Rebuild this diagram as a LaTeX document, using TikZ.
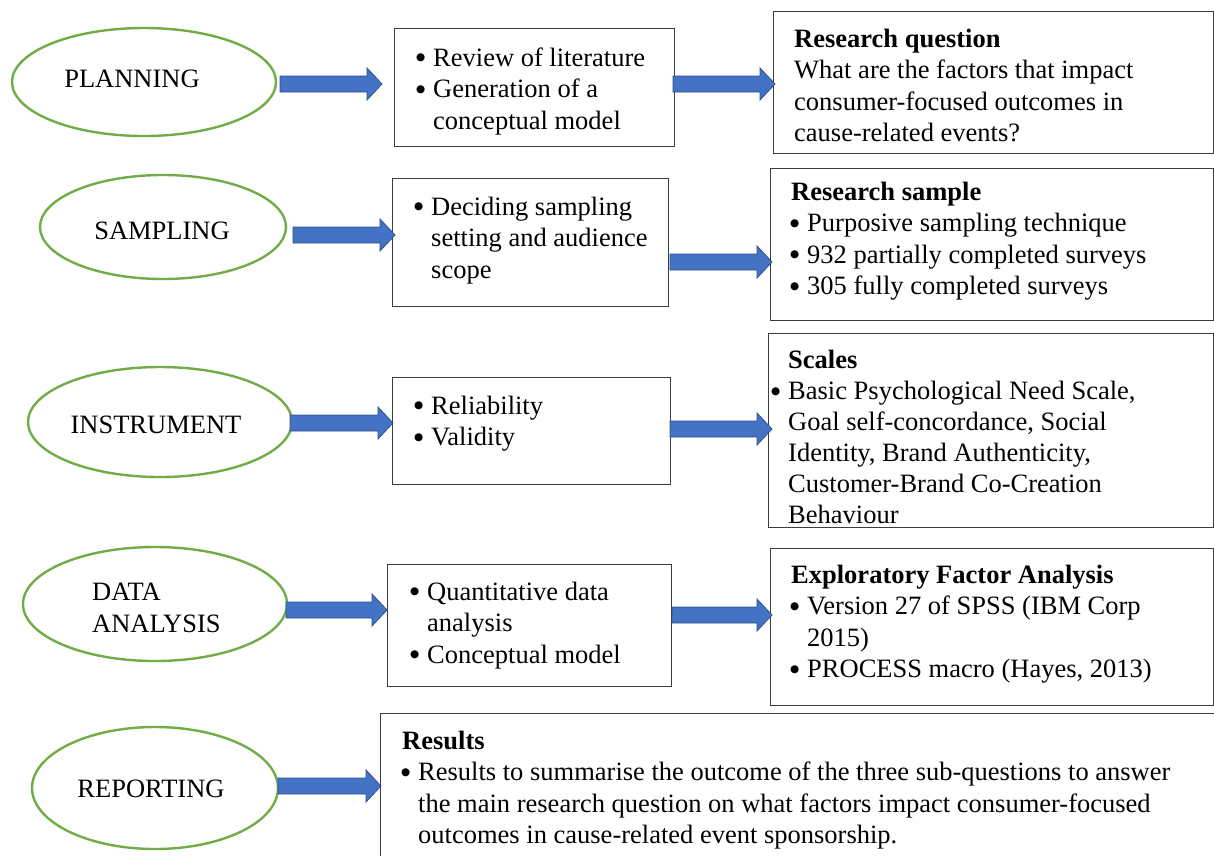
\documentclass[tikz,border=0pt]{standalone}
\usepackage{fontspec}
\setmainfont{Liberation Serif}
\newfontfamily\dotfont{DejaVu Sans}
\usetikzlibrary{shapes.geometric,calc}

\definecolor{ellgreen}{HTML}{70AD47}
\definecolor{arrfill}{HTML}{4472C4}
\definecolor{arredge}{HTML}{2F528F}
\definecolor{boxedge}{HTML}{3C3C3C}

% body text: 26.5pt on 31.5pt
\newcommand\fs{\fontsize{26.5}{31.5}\selectfont}
\newcommand\fst{\fontsize{26.5}{31}\selectfont}
% bulleted line, indented continuation line, bold heading line
\newcommand\dotmark{\makebox[7pt]{\raisebox{5.5pt}{\dotfont\fontsize{10.5}{10.5}\selectfont ●}}}
\newcommand\bl{\strut\makebox[16pt][l]{\dotmark}}
\newcommand\ind{\strut\hspace*{16pt}}
\newcommand\hd[1]{\strut\textbf{#1}}

% block arrow from coordinate #1 to tip #2 (horizontal)
\newcommand\fatarrow[2]{%
  \path[fatarr] let \p1=(#1), \p2=(#2) in
    (\x1,\y1+8pt) -- (\x2-15pt,\y1+8pt) -- (\x2-15pt,\y1+16pt) --
    (\x2,\y1) -- (\x2-15pt,\y1-16pt) -- (\x2-15pt,\y1-8pt) --
    (\x1,\y1-8pt) -- cycle;}

\tikzset{
  stage/.style={ellipse, draw=ellgreen, line width=2.4pt, fill=white, inner sep=0pt},
  lbl/.style={font=\fs, inner sep=0pt, text=black},
  infobox/.style={draw=boxedge, line width=1.4pt, anchor=north west, inner sep=0pt, fill=white},
  txt/.style={font=\fs, anchor=north west, inner sep=0pt, align=left, text=black},
  fatarr/.style={fill=arrfill, draw=arredge, line width=0.8pt, line join=miter},
}

\begin{document}
\begin{tikzpicture}[x=1pt, y=-1pt]
\useasboundingbox (0,0) rectangle (1214,855);
\fill[white] (0,0) rectangle (1214,855);

% ---- stages (ellipses) ----
\node[stage, minimum width=264pt, minimum height=108pt] (plan) at (144,82) {};
\node[lbl] (planL) at (132,79) {PLANNING};

\node[stage, minimum width=246pt, minimum height=104pt] (samp) at (163,227) {};
\node[lbl] (sampL) at (162,231) {SAMPLING};

\node[stage, minimum width=264pt, minimum height=110pt] (inst) at (160,422) {};
\node[lbl] (instL) at (156,425) {INSTRUMENT};

\node[stage, minimum width=264pt, minimum height=114pt] (data) at (155,604) {};
\node[lbl, anchor=west, align=left] (dataL) at (92,608) {DATA\\ANALYSIS};

\node[stage, minimum width=246pt, minimum height=122pt] (rep) at (155,788) {};
\node[lbl] (repL) at (151,789) {REPORTING};

% ---- boxes ----
\node[infobox, minimum width=280pt, minimum height=118pt] (b1m) at (394,28) {};
\node[infobox, minimum width=440pt, minimum height=142pt] (b1r) at (773,11) {};
\node[infobox, minimum width=276pt, minimum height=128pt] (b2m) at (392,178) {};
\node[infobox, minimum width=443pt, minimum height=152pt] (b2r) at (770,168) {};
\node[infobox, minimum width=278pt, minimum height=107pt] (b3m) at (392,377) {};
\node[infobox, minimum width=445pt, minimum height=194pt] (b3r) at (768,333) {};
\node[infobox, minimum width=284pt, minimum height=122pt] (b4m) at (387,564) {};
\node[infobox, minimum width=443pt, minimum height=157pt] (b4r) at (770,548) {};
\node[infobox, minimum width=850pt, minimum height=160pt] (b5) at (380,713) {};

% ---- box texts ----
\node[txt] (t1m) at (417,44) {\bl Review of literature\\ \bl Generation of a\\ \ind conceptual model};
\node[txt] (t1r) at (794,25) {\hd{Research question}\\ \strut What are the factors that impact\\ \strut consumer-focused outcomes in\\ \strut cause-related events?};

\node[txt] (t2m) at (415,193) {\bl Deciding sampling\\ \ind setting and audience\\ \ind scope};
\node[txt] (t2r) at (791,178) {\hd{Research sample}\\ \bl Purposive sampling technique\\ \bl 932 partially completed surveys\\ \bl 305 fully completed surveys};

\node[txt] (t3m) at (415,392) {\bl Reliability\\ \bl Validity};
\node[txt, font=\fst] (t3r) at (772,347) {\ind\textbf{Scales}\\ \bl Basic Psychological Need Scale,\\ \ind Goal self-concordance, Social\\ \ind Identity, Brand Authenticity,\\ \ind Customer-Brand Co-Creation\\ \ind Behaviour};

\node[txt] (t4m) at (411,578) {\bl Quantitative data\\ \ind analysis\\ \bl Conceptual model};
\node[txt] (t4r) at (791,561) {\hd{Exploratory Factor Analysis}\\ \bl Version 27 of SPSS (IBM Corp\\ \ind 2015)\\ \bl PROCESS macro (Hayes, 2013)};

\node[txt] (t5) at (402,727) {\hd{Results}\\ \bl Results to summarise the outcome of the three sub-questions to answer\\ \ind the main research question on what factors impact consumer-focused\\ \ind outcomes in cause-related event sponsorship.};

% ---- block arrows ----
\coordinate (a1s) at (280,84);  \coordinate (a1e) at (382,84);
\coordinate (a2s) at (673,84);  \coordinate (a2e) at (775,84);
\coordinate (a3s) at (293,235); \coordinate (a3e) at (395,235);
\coordinate (a4s) at (670,262); \coordinate (a4e) at (772,262);
\coordinate (a5s) at (290,423); \coordinate (a5e) at (393,423);
\coordinate (a6s) at (670,429); \coordinate (a6e) at (772,429);
\coordinate (a7s) at (286,610); \coordinate (a7e) at (387,610);
\coordinate (a8s) at (672,615); \coordinate (a8e) at (772,615);
\coordinate (a9s) at (278,786); \coordinate (a9e) at (381,786);
\fatarrow{a1s}{a1e}
\fatarrow{a2s}{a2e}
\fatarrow{a3s}{a3e}
\fatarrow{a4s}{a4e}
\fatarrow{a5s}{a5e}
\fatarrow{a6s}{a6e}
\fatarrow{a7s}{a7e}
\fatarrow{a8s}{a8e}
\fatarrow{a9s}{a9e}
\end{tikzpicture}
\end{document}
